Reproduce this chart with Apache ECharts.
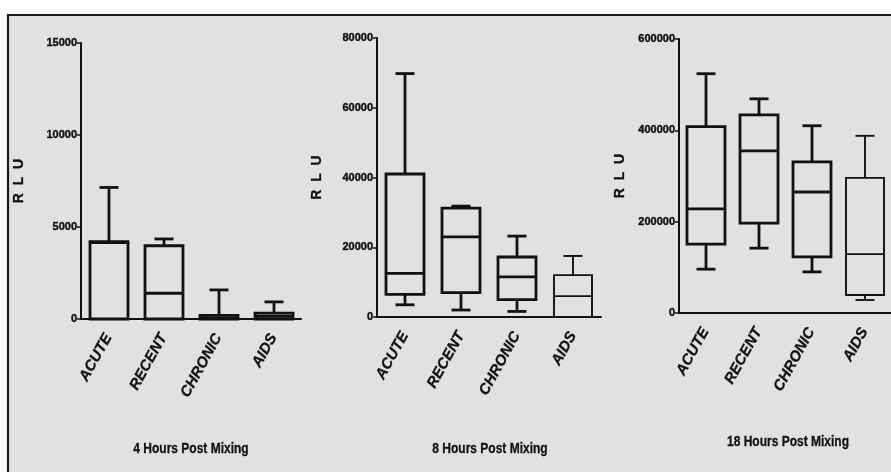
<!DOCTYPE html>
<html><head><meta charset="utf-8">
<script src="https://cdn.jsdelivr.net/npm/echarts@6/dist/echarts.min.js"></script>
<style>html,body{margin:0;padding:0;background:#fff}#c{width:891px;height:475px}</style>
</head><body><div id="c"></div>
<script>
const categories = ['ACUTE', 'RECENT', 'CHRONIC', 'AIDS'];
// each row: [min, Q1, median, Q3, max]
const hours4 = [[0, 0, 4150, 4200, 7150], [0, 0, 1400, 3980, 4350], [0, 0, 60, 200, 1580], [0, 0, 150, 320, 930]];
const hours8 = [[3500, 6500, 12500, 41000, 69800], [2000, 7000, 23000, 31200, 31800], [1600, 5000, 11500, 17200, 23200], [0, 0, 6000, 12000, 17500]];
const hours18 = [[96000, 151000, 228000, 408000, 524000], [142000, 197000, 355000, 434000, 469000], [90000, 123000, 265000, 331000, 410000], [28500, 39500, 129000, 296000, 388000]];
const panelTitles = ['4 Hours Post Mixing', '8 Hours Post Mixing', '18 Hours Post Mixing'];
const yMax = [15000, 80000, 600000];
const yStep = [5000, 20000, 200000];
const panels = [hours4, hours8, hours18];

const sans = "'Liberation Sans', Arial, sans-serif";
const ink = '#111';

const grids = [
  {left: 81, top: 43, width: 220, height: 276},
  {left: 377, top: 38, width: 224, height: 279},
  {left: 679, top: 39, width: 217, height: 274}
];
const titlePos = [[191, 449], [490, 449], [788, 442]];
const yNameGaps = [55, 53, 52];

function renderBox(params, api) {
  const i = api.value(0);
  const pts = [1, 2, 3, 4, 5].map(d => api.coord([i, api.value(d)]));
  const x = Math.round(pts[0][0]);
  const ys = pts.map(p => p[1]);
  const hw = 19, cw = 9.5;
  const lw = (params.dataIndex === 3 && params.seriesIndex > 0) ? 1.9 : 2.8;
  const style = {stroke: ink, lineWidth: lw, fill: null};
  const ch = [];
  if (Math.abs(ys[0] - ys[1]) > 0.5) {
    ch.push({type: 'line', shape: {x1: x, y1: ys[1], x2: x, y2: ys[0]}, style});
    ch.push({type: 'line', shape: {x1: x - cw, y1: ys[0], x2: x + cw, y2: ys[0]}, style});
  }
  if (Math.abs(ys[4] - ys[3]) > 0.5) {
    ch.push({type: 'line', shape: {x1: x, y1: ys[3], x2: x, y2: ys[4]}, style});
    ch.push({type: 'line', shape: {x1: x - cw, y1: ys[4], x2: x + cw, y2: ys[4]}, style});
  }
  ch.push({type: 'rect', shape: {x: x - hw, y: ys[3], width: 2 * hw, height: ys[1] - ys[3]}, style});
  ch.push({type: 'line', shape: {x1: x - hw, y1: ys[2], x2: x + hw, y2: ys[2]}, style});
  return {type: 'group', children: ch};
}

const titleGraphics = panelTitles.map((t, k) => ({
  type: 'text', silent: true, x: titlePos[k][0], y: titlePos[k][1], scaleX: 0.8,
  style: {text: t, x: 0, y: 0, align: 'center', verticalAlign: 'middle', fill: ink,
    font: "bold 15px 'Liberation Sans', Arial, sans-serif", stroke: ink, lineWidth: 0.3}
}));

const option = {
  backgroundColor: '#fff',
  animation: false,
  graphic: [
    {type: 'rect', z: -100, silent: true, shape: {x: 8, y: 15, width: 900, height: 457}, style: {fill: '#e1e1e1'}},
    {type: 'polyline', z: -99, silent: true, shape: {points: [[8, 472], [8, 15], [891, 15]]}, style: {stroke: '#1a1a1a', lineWidth: 2.2, fill: null}}
  ].concat(titleGraphics),
  grid: grids.map(g => Object.assign({containLabel: false}, g)),
  xAxis: grids.map((g, k) => ({
    type: 'category', gridIndex: k, data: categories,
    axisLine: {lineStyle: {color: ink, width: 2}},
    axisTick: {alignWithLabel: true, length: 6, lineStyle: {color: ink, width: 2}},
    axisLabel: {rotate: 61, interval: 0, color: ink, fontStyle: 'italic', fontWeight: 'bold',
      fontSize: 15, fontFamily: sans, margin: 16, textBorderColor: ink, textBorderWidth: 0.3}
  })),
  yAxis: grids.map((g, k) => ({
    type: 'value', gridIndex: k, min: 0, max: yMax[k], interval: yStep[k],
    axisLine: {show: true, lineStyle: {color: ink, width: 2}},
    axisTick: {show: true, length: 4, lineStyle: {color: ink, width: 1.5}},
    splitLine: {show: false},
    axisLabel: {color: ink, fontWeight: 'bold', fontSize: 11, fontFamily: sans, margin: 4,
      textBorderColor: ink, textBorderWidth: 0.4, formatter: v => String(v)},
    name: 'R  L  U', nameLocation: 'middle', nameRotate: 90, nameGap: yNameGaps[k],
    nameTextStyle: {color: ink, fontWeight: 'bold', fontSize: 14, fontFamily: sans,
      textBorderColor: ink, textBorderWidth: 0.3}
  })),
  series: panels.map((rows, k) => ({
    type: 'custom', xAxisIndex: k, yAxisIndex: k,
    renderItem: renderBox,
    encode: {x: 0, y: [1, 2, 3, 4, 5]},
    data: rows.map((r, i) => [i].concat(r))
  }))
};
echarts.init(document.getElementById('c')).setOption(option);
</script>
</body></html>
